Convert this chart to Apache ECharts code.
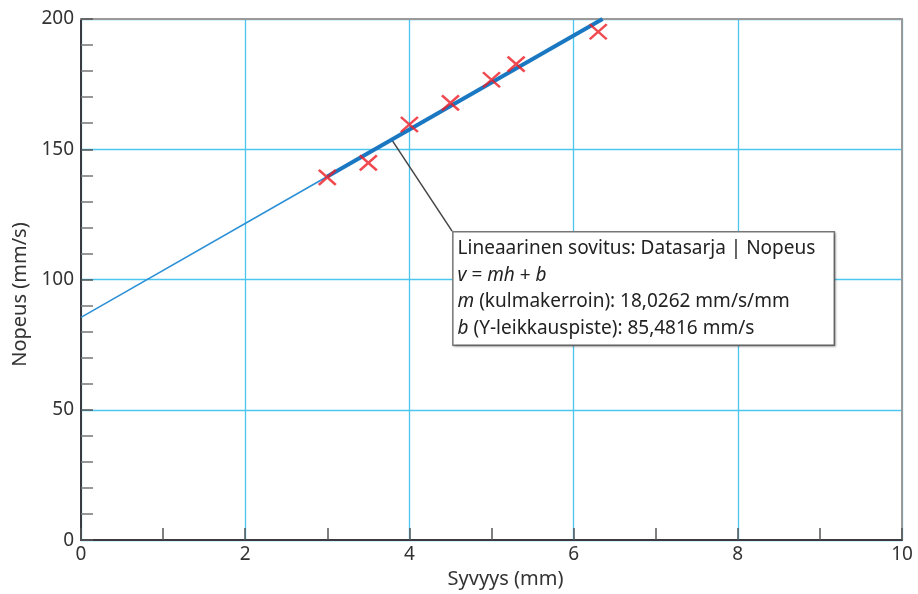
<!DOCTYPE html>
<html>
<head>
<meta charset="utf-8">
<script src="https://cdn.jsdelivr.net/npm/echarts@6/dist/echarts.min.js"></script>
<style>html,body{margin:0;padding:0;background:#fff}#c{width:918px;height:594px}</style>
</head>
<body>
<div id="c"></div>
<script>
// Measured data (depth mm, speed mm/s)
var depth = [3, 3.5, 4, 4.5, 5, 5.3, 6.3];
var speed = [139.2, 144.8, 159.5, 167.8, 176.7, 182.7, 195.1];
// Fit line endpoints (thin extension and thick fitted segment)
var fitThinX = [0, 3];
var fitThinY = [85.48, 139.56];
var fitThickX = [3, 6.353];
var fitThickY = [139.56, 200];
// Leader line: point on fit line and annotation box corner
var leaderX = [3.784, 4.52];
var leaderY = [153.7, 118.6];
var xTicks = [0, 2, 4, 6, 8, 10];
var yTicks = [0, 50, 100, 150, 200];
var annotationLines = [
  'Lineaarinen sovitus: Datasarja | Nopeus',
  '{i|v} = {i|mh} + {i|b}',
  '{i|m} (kulmakerroin): 18,0262 mm/s/mm',
  '{i|b} (Y-leikkauspiste): 85,4816 mm/s'
];

var FONT = 'Noto Sans';
function pairs(xs, ys){ return xs.map(function(x,i){return [x, ys[i]];}); }

var chart = echarts.init(document.getElementById('c'));
var option = {
  animation: false,
  backgroundColor: '#fff',
  textStyle: {fontFamily: FONT},
  grid: {left: 81, right: 16, top: 19, bottom: 52, containLabel: false},
  xAxis: [{
    type: 'value', min: xTicks[0], max: xTicks[xTicks.length-1], interval: 2,
    name: 'Syvyys (mm)', nameLocation: 'middle', nameGap: 25,
    nameTextStyle: {fontSize: 20, color: '#333', fontFamily: FONT, padding: [0, 0, 0, 28]},
    axisLine: {show: true, onZero: false, lineStyle: {color: '#3a3a40', width: 2}},
    axisTick: {show: true, inside: true, length: 12, lineStyle: {color: '#555', width: 1.5}},
    minorTick: {show: true, splitNumber: 2, length: 12, lineStyle: {color: '#555', width: 1.5}},
    axisLabel: {fontSize: 19, color: '#333', margin: 5, fontFamily: FONT},
    splitLine: {show: true, lineStyle: {color: '#4cc6f0', width: 1.3}}
  }, {
    type: 'value', position: 'top', min: 0, max: 10,
    axisLine: {show: true, onZero: false, lineStyle: {color: '#9a9a9a', width: 2}},
    axisTick: {show: false}, axisLabel: {show: false}, splitLine: {show: false}
  }],
  yAxis: [{
    type: 'value', min: yTicks[0], max: yTicks[yTicks.length-1], interval: 50,
    name: 'Nopeus (mm/s)', nameLocation: 'middle', nameGap: 49,
    nameTextStyle: {fontSize: 20, color: '#333', fontFamily: FONT, padding: [0, 30, 0, 0]},
    axisLine: {show: true, onZero: false, lineStyle: {color: '#3a3a40', width: 2}},
    axisTick: {show: true, inside: true, length: 12, lineStyle: {color: '#555', width: 1.5}},
    minorTick: {show: true, splitNumber: 5, length: 12, lineStyle: {color: '#777', width: 1.5}},
    axisLabel: {fontSize: 19, color: '#333', margin: 7, fontFamily: FONT},
    splitLine: {show: true, lineStyle: {color: '#4cc6f0', width: 1.3}}
  }, {
    type: 'value', position: 'right', min: 0, max: 200,
    axisLine: {show: true, onZero: false, lineStyle: {color: '#9a9a9a', width: 2}},
    axisTick: {show: false}, axisLabel: {show: false}, splitLine: {show: false}
  }],
  series: [
    {type: 'line', data: pairs(fitThinX, fitThinY), showSymbol: false, symbol: 'none',
     lineStyle: {color: '#2a8fd6', width: 1.5}, z: 3},
    {type: 'line', data: pairs(fitThickX, fitThickY), showSymbol: false, symbol: 'none',
     lineStyle: {color: '#1a78c2', width: 4}, z: 3},
    {type: 'line', data: pairs(leaderX, leaderY), showSymbol: false, symbol: 'none',
     lineStyle: {color: '#444', width: 1.5}, z: 2},
    {type: 'scatter', data: pairs(depth, speed),
     symbol: 'path://M0,0L10,10M10,0L0,10', symbolSize: [17, 15],
     itemStyle: {color: 'transparent', borderColor: '#ec1c24', borderWidth: 2.5}, z: 4}
  ]
};
chart.setOption(option);
var corner = chart.convertToPixel({gridIndex: 0}, [leaderX[1], leaderY[1]]);
chart.setOption({
  graphic: [{
    type: 'text', left: corner[0], top: corner[1], z: 10,
    style: {
      text: annotationLines.join('\n'),
      fontFamily: FONT, fontSize: 19, fill: '#222', lineHeight: 26.5,
      backgroundColor: '#fff', borderColor: '#777', borderWidth: 1.5,
      padding: [3, 6, 3, 4], width: 370,
      shadowColor: 'rgba(0,0,0,0.25)', shadowOffsetX: 1, shadowOffsetY: 1, shadowBlur: 2,
      rich: {i: {fontStyle: 'italic', fontFamily: FONT, fontSize: 19, fill: '#222', lineHeight: 26.5}}
    }
  }]
});
</script>
</body>
</html>
